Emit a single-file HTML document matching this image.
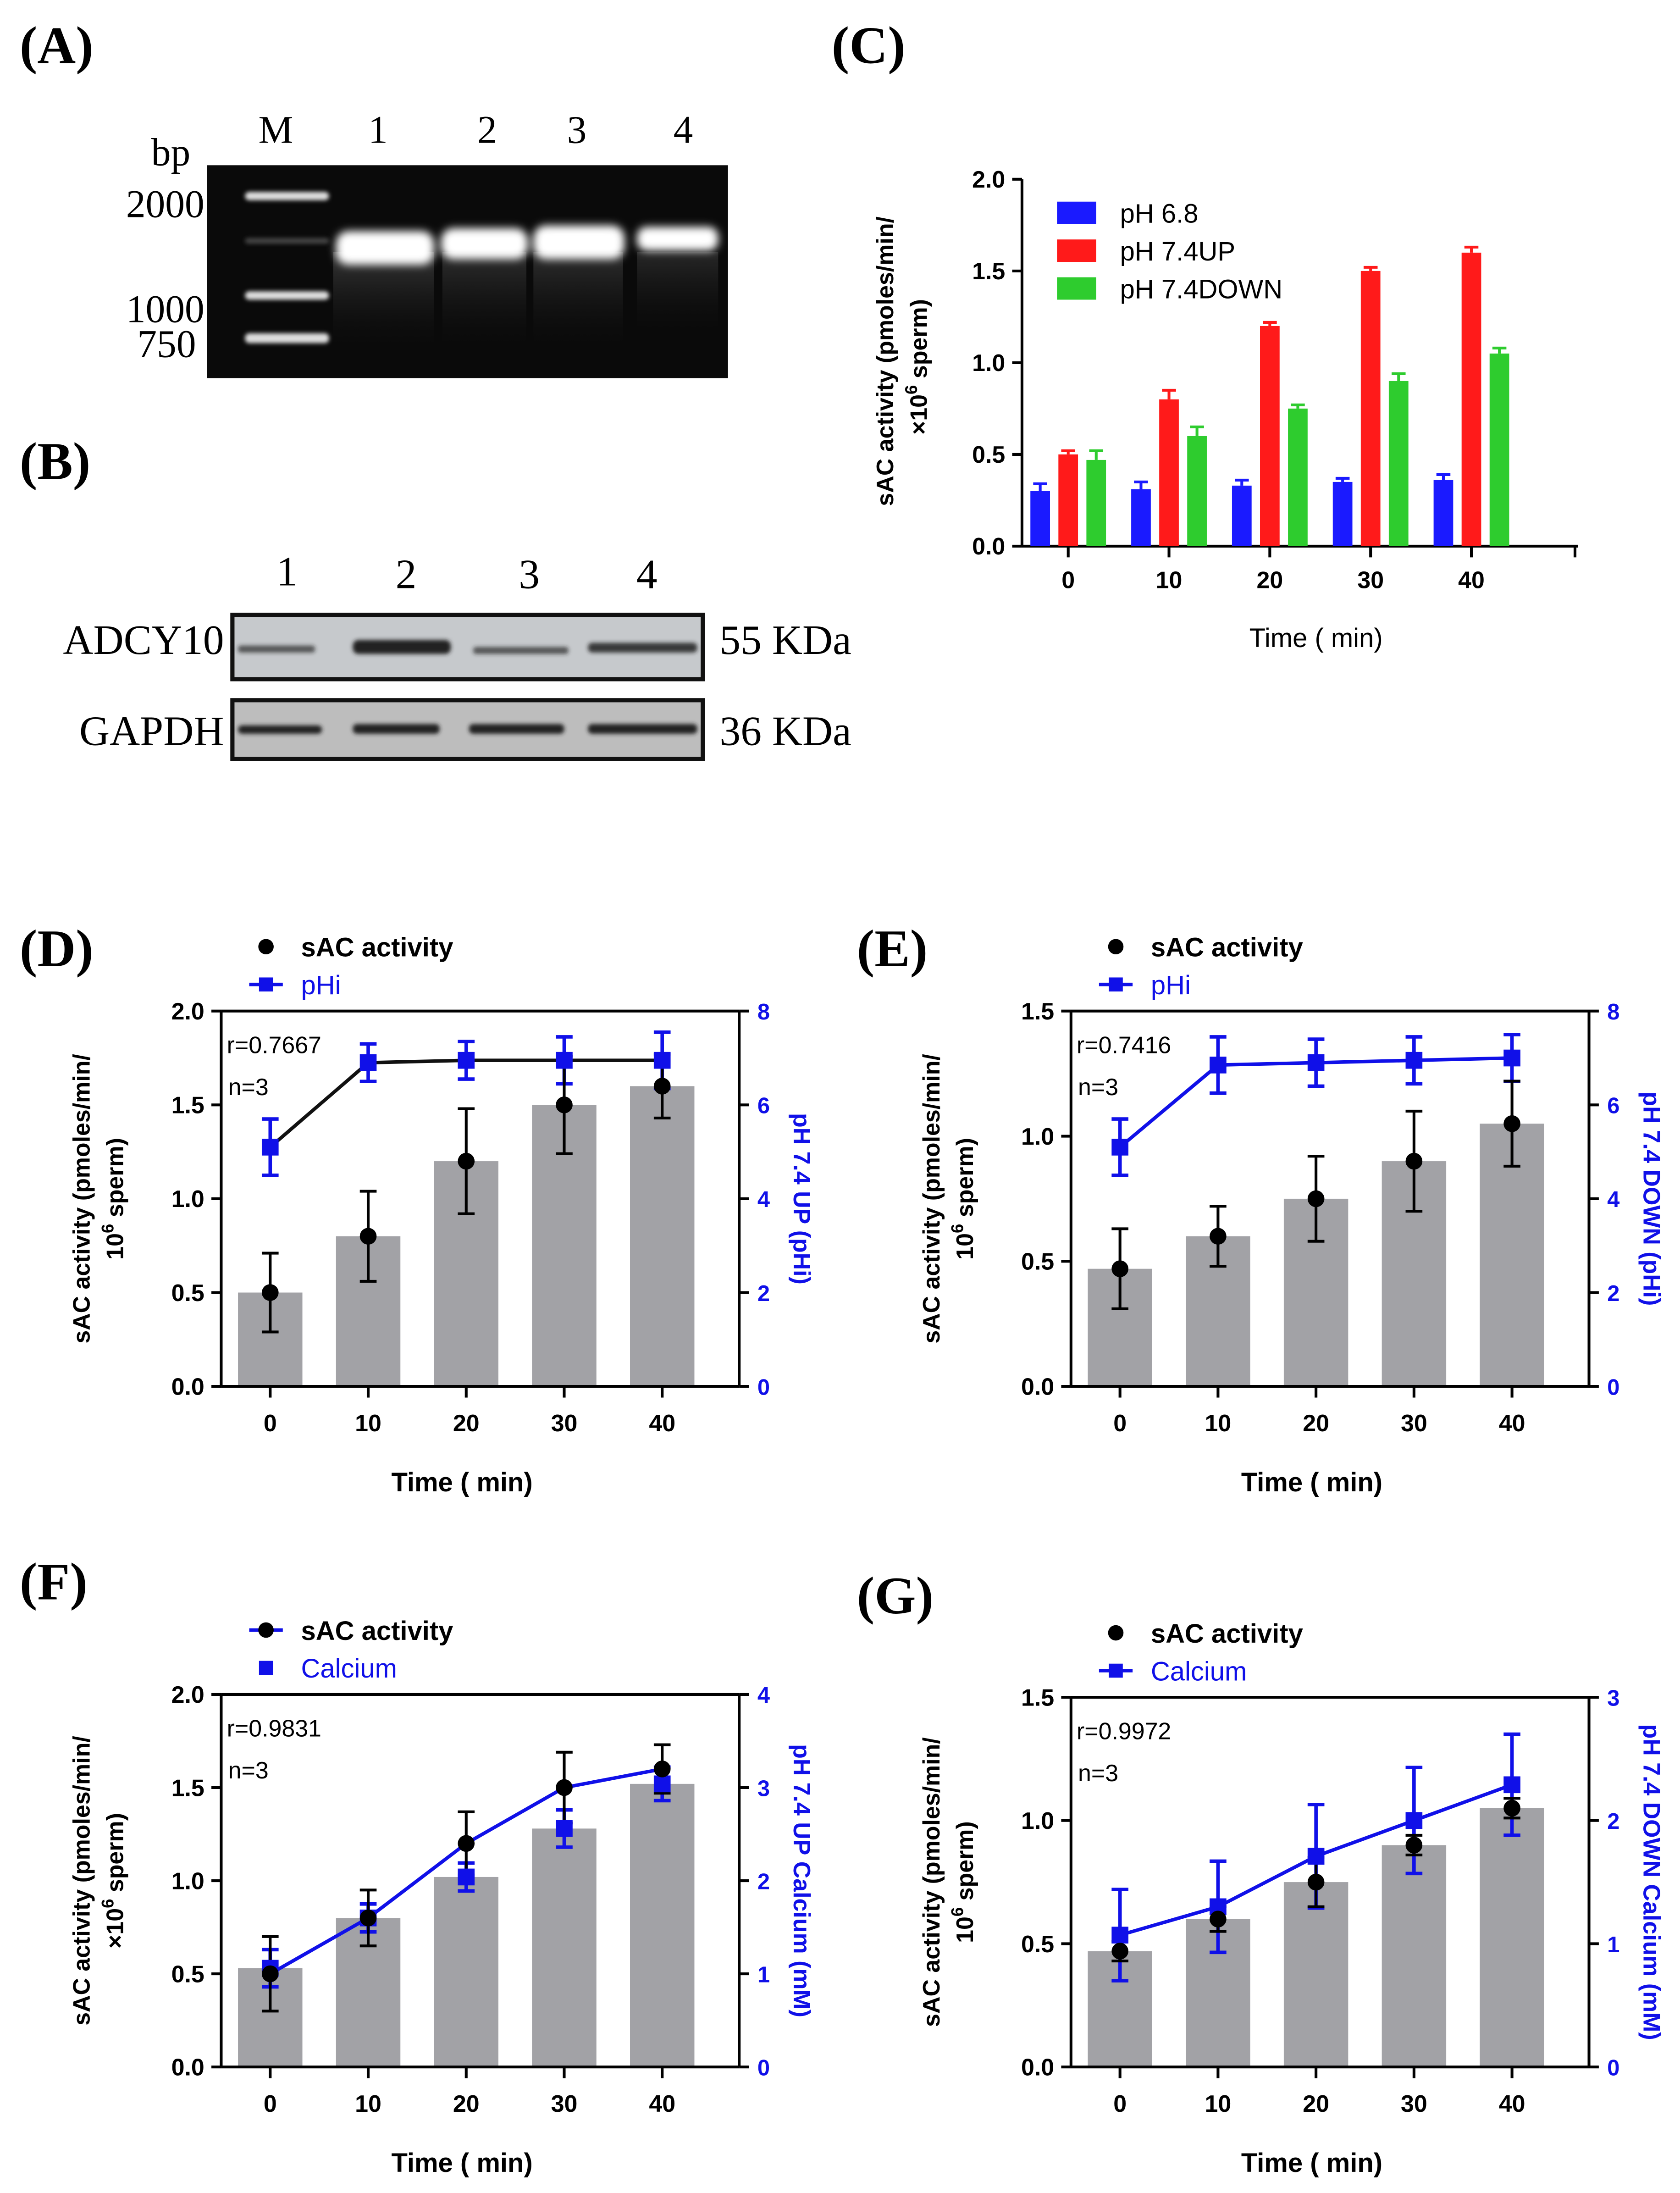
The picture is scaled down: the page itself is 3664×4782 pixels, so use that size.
<!DOCTYPE html>
<html><head><meta charset="utf-8"><style>
html,body{margin:0;padding:0;background:#fff;}
svg{display:block;}
text{font-family:"Liberation Sans",sans-serif;}
.serif{font-family:"Liberation Serif",serif;}
</style></head><body>
<svg id="fig" xmlns="http://www.w3.org/2000/svg" width="3664" height="4782" viewBox="0 0 1200 1566" preserveAspectRatio="none">
<defs>
<filter id="blur2" x="-20%" y="-100%" width="140%" height="300%"><feGaussianBlur stdDeviation="3"/></filter>
<filter id="blur1" x="-20%" y="-100%" width="140%" height="300%"><feGaussianBlur stdDeviation="1.5"/></filter>
<linearGradient id="smear" x1="0" y1="0" x2="0" y2="1"><stop offset="0" stop-color="#555"/><stop offset="1" stop-color="#111" stop-opacity="0"/></linearGradient>
</defs>
<!-- Panel A -->
<g>
<text class="serif" x="14" y="45" font-size="38" font-weight="bold">(A)</text>
<text class="serif" x="108" y="118" font-size="28">bp</text>
<text class="serif" x="197" y="102" font-size="28" text-anchor="middle">M</text>
<text class="serif" x="270" y="102" font-size="28" text-anchor="middle">1</text>
<text class="serif" x="348" y="102" font-size="28" text-anchor="middle">2</text>
<text class="serif" x="412" y="102" font-size="28" text-anchor="middle">3</text>
<text class="serif" x="488" y="102" font-size="28" text-anchor="middle">4</text>
<text class="serif" x="146" y="155" font-size="28" text-anchor="end">2000</text>
<text class="serif" x="146" y="230" font-size="28" text-anchor="end">1000</text>
<text class="serif" x="140" y="255" font-size="28" text-anchor="end">750</text>
<rect x="148" y="118" width="372" height="152" fill="#0a0a0a"/>
<g fill="#ddd" filter="url(#blur1)">
<rect x="175" y="137" width="60" height="6" rx="3"/><rect x="175" y="170" width="60" height="4" rx="2" fill="#444"/><rect x="175" y="208" width="60" height="6" rx="3"/><rect x="175" y="238" width="60" height="7" rx="3"/>
</g>
<g>
<rect x="238" y="180" width="72" height="70" fill="url(#smear)" opacity="0.6"/>
<rect x="316" y="180" width="60" height="70" fill="url(#smear)" opacity="0.5"/>
<rect x="381" y="180" width="64" height="70" fill="url(#smear)" opacity="0.5"/>
<rect x="455" y="180" width="58" height="60" fill="url(#smear)" opacity="0.4"/>
</g>
<g fill="#fff" filter="url(#blur2)">
<rect x="240" y="165" width="70" height="24" rx="9"/><rect x="315" y="163" width="62" height="22" rx="9"/><rect x="381" y="161" width="65" height="24" rx="9"/><rect x="455" y="162" width="58" height="17" rx="7"/>
</g>
</g>
<!-- Panel B -->
<g>
<text class="serif" x="14" y="342" font-size="38" font-weight="bold">(B)</text>
<text class="serif" x="205" y="418" font-size="30" text-anchor="middle">1</text>
<text class="serif" x="290" y="420" font-size="30" text-anchor="middle">2</text>
<text class="serif" x="378" y="420" font-size="30" text-anchor="middle">3</text>
<text class="serif" x="462" y="420" font-size="30" text-anchor="middle">4</text>
<text class="serif" x="160" y="467" font-size="30" text-anchor="end">ADCY10</text>
<text class="serif" x="160" y="532" font-size="30" text-anchor="end">GAPDH</text>
<text class="serif" x="514" y="467" font-size="30">55 KDa</text>
<text class="serif" x="514" y="532" font-size="30">36 KDa</text>
<rect x="166" y="439" width="336" height="46" fill="#c6c9cc" stroke="#111" stroke-width="3"/>
<rect x="166" y="500" width="336" height="42" fill="#bdbdbd" stroke="#111" stroke-width="3"/>
<g fill="#222" filter="url(#blur1)">
<rect x="170" y="461" width="55" height="5" rx="2" opacity="0.7"/><rect x="252" y="457" width="70" height="10" rx="4"/><rect x="338" y="462" width="68" height="5" rx="2" opacity="0.7"/><rect x="420" y="459" width="78" height="7" rx="3" opacity="0.85"/>
<rect x="170" y="518" width="60" height="6" rx="3"/><rect x="252" y="517" width="62" height="7" rx="3"/><rect x="335" y="517" width="68" height="7" rx="3"/><rect x="420" y="517" width="78" height="7" rx="3"/>
</g>
</g>
<text class="serif" x="594" y="45" font-size="38" font-weight="bold">(C)</text>
<text class="serif" x="14" y="690" font-size="38" font-weight="bold">(D)</text>
<text class="serif" x="612" y="690" font-size="38" font-weight="bold">(E)</text>
<text class="serif" x="14" y="1142" font-size="38" font-weight="bold">(F)</text>
<text class="serif" x="612" y="1152" font-size="38" font-weight="bold">(G)</text>
</svg>
<script>
// ---------- Panel C data ----------
const cTimes = ["0","10","20","30","40"];
const cSeriesNames = ["pH 6.8","pH 7.4UP","pH 7.4DOWN"];
const cBlue = [0.30,0.31,0.33,0.35,0.36];
const cBlueErr = [0.04,0.04,0.03,0.02,0.03];
const cRed = [0.50,0.80,1.20,1.50,1.60];
const cRedErr = [0.02,0.05,0.02,0.02,0.03];
const cGreen = [0.47,0.60,0.75,0.90,1.05];
const cGreenErr = [0.05,0.05,0.02,0.04,0.03];
const cTicks = ["0.0","0.5","1.0","1.5","2.0"];

// ---------- Panel D data ----------
const dTimes = ["0","10","20","30","40"];
const dSac = [0.50,0.80,1.20,1.50,1.60];
const dSacErr = [0.21,0.24,0.28,0.26,0.17];
const dPhi = [5.1,6.9,6.95,6.95,6.95];
const dPhiErr = [0.6,0.4,0.4,0.5,0.6];
// ---------- Panel E data ----------
const eTimes = ["0","10","20","30","40"];
const eSac = [0.47,0.60,0.75,0.90,1.05];
const eSacErr = [0.16,0.12,0.17,0.20,0.17];
const ePhi = [5.1,6.85,6.9,6.95,7.0];
const ePhiErr = [0.6,0.6,0.5,0.5,0.5];
// ---------- Panel F data ----------
const fTimes = ["0","10","20","30","40"];
const fSac = [0.50,0.80,1.20,1.50,1.60];
const fSacErr = [0.20,0.15,0.17,0.19,0.13];
const fCalcium = [1.06,1.60,2.04,2.56,3.04];
const fCalciumErr = [0.2,0.15,0.15,0.2,0.18];
// ---------- Panel G data ----------
const gTimes = ["0","10","20","30","40"];
const gSac = [0.47,0.60,0.75,0.90,1.05];
const gSacErr = [0.04,0.05,0.10,0.04,0.04];
const gCalcium = [1.07,1.30,1.71,2.00,2.29];
const gCalciumErr = [0.37,0.37,0.42,0.43,0.41];

const NS = "http://www.w3.org/2000/svg";
const svg = document.getElementById('fig');
const BLUE = "#1010e8";
function mk(tag, attrs, parent){
  const e = document.createElementNS(NS, tag);
  for (const k in attrs) e.setAttribute(k, attrs[k]);
  (parent||svg).appendChild(e);
  return e;
}
function txt(s, attrs, parent){ const t = mk('text', attrs, parent); t.textContent = s; return t; }

// ---------- Panel C ----------
(function(){
  const g = mk('g', {});
  
  
  const x0 = 730, yTop = 128, yBot = 390, vmax = 2.0;
  const y = v => yBot - v / vmax * (yBot - yTop);
  const xc = i => 763 + i * 72;
  mk('line', {x1:x0, y1:yTop, x2:x0, y2:yBot, stroke:'#000','stroke-width':2}, g);
  mk('line', {x1:x0, y1:yBot, x2:1127, y2:yBot, stroke:'#000','stroke-width':2}, g);
  cTicks.forEach(t => {
    const v = parseFloat(t);
    mk('line', {x1:x0-7, y1:y(v), x2:x0, y2:y(v), stroke:'#000','stroke-width':2}, g);
    const l = txt(t, {x:x0-12, y:y(v)+6, 'font-size':17, 'font-weight':'bold', 'text-anchor':'end'}, g);
    
    
  });
  cTimes.forEach((t, i) => {
    mk('line', {x1:xc(i), y1:yBot, x2:xc(i), y2:yBot+8, stroke:'#000','stroke-width':2}, g);
    const l = txt(t, {x:xc(i), y:yBot+30, 'font-size':17, 'font-weight':'bold', 'text-anchor':'middle'}, g);
    
    
  });
  mk('line', {x1:1125, y1:yBot, x2:1125, y2:yBot+8, stroke:'#000','stroke-width':2}, g);
  const series = [[cBlue,cBlueErr,'#1a1aff',-20],[cRed,cRedErr,'#ff1a1a',0],[cGreen,cGreenErr,'#2ecc2e',20]];
  series.forEach((s, si) => {
    s[0].forEach((v, i) => {
      const cx = xc(i) + s[3];
      const b = mk('rect', {x:cx-7, y:y(v), width:14, height:yBot-y(v), fill:s[2]}, g);
      
      
      mk('line', {x1:cx, y1:y(v), x2:cx, y2:y(v+s[1][i]), stroke:s[2],'stroke-width':2}, g);
      mk('line', {x1:cx-5, y1:y(v+s[1][i]), x2:cx+5, y2:y(v+s[1][i]), stroke:s[2],'stroke-width':2}, g);
    });
  });
  const cols = ['#1a1aff','#ff1a1a','#2ecc2e'];
  cSeriesNames.forEach((n, i) => {
    const ly = 153 + i * 27;
    const r = mk('rect', {x:755, y:ly-9, width:28, height:16, fill:cols[i]}, g);
    
    
    const l = txt(n, {x:800, y:ly+6, 'font-size':19}, g);
    
    
  });
  const t1 = txt('sAC activity (pmoles/min/', {x:0, y:0, 'font-size':17, 'font-weight':'bold', 'text-anchor':'middle', transform:'translate(638,258) rotate(-90)'}, g);
  
  
  const t2 = mk('text', {x:0, y:0, 'font-size':17, 'font-weight':'bold', 'text-anchor':'middle', transform:'translate(662,262) rotate(-90)'}, g);
  t2.innerHTML = '×10<tspan dy="-7" font-size="12">6</tspan><tspan dy="7"> sperm)</tspan>';
  
  
  const xt = txt('Time ( min)', {x:940, y:462, 'font-size':19, 'text-anchor':'middle'}, g);
  
  
})();

// ---------- Dual panels ----------
function dual(o){
  const g = mk('g', {});
  
  
  const yL = v => o.yBot - v / o.lmax * (o.yBot - o.yTop);
  const yR = v => o.yBot - v / o.rmax * (o.yBot - o.yTop);
  const xc = i => o.x0 + 35 + i * 70;
  o.times.forEach((t, i) => {
    const v = o.barOnRight ? o.right[i] : o.left[i];
    const yy = o.barOnRight ? yR(v) : yL(v);
    const b = mk('rect', {x:xc(i)-23, y:yy, width:46, height:o.yBot-yy, fill:'#a2a2a6'}, g);
    
    
  });
  mk('line', {x1:o.x0, y1:o.yTop, x2:o.x0, y2:o.yBot, stroke:'#000','stroke-width':2}, g);
  mk('line', {x1:o.x0+370, y1:o.yTop, x2:o.x0+370, y2:o.yBot, stroke:'#000','stroke-width':2}, g);
  mk('line', {x1:o.x0, y1:o.yTop, x2:o.x0+370, y2:o.yTop, stroke:'#000','stroke-width':2}, g);
  mk('line', {x1:o.x0, y1:o.yBot, x2:o.x0+370, y2:o.yBot, stroke:'#000','stroke-width':2}, g);
  o.lTicks.forEach(t => {
    const v = parseFloat(t);
    mk('line', {x1:o.x0-7, y1:yL(v), x2:o.x0, y2:yL(v), stroke:'#000','stroke-width':2}, g);
    const l = txt(t, {x:o.x0-12, y:yL(v)+6, 'font-size':17, 'font-weight':'bold', 'text-anchor':'end'}, g);
    
    
  });
  o.rTicks.forEach(t => {
    const v = parseFloat(t);
    mk('line', {x1:o.x0+370, y1:yR(v), x2:o.x0+377, y2:yR(v), stroke:'#000','stroke-width':2}, g);
    const l = txt(t, {x:o.x0+383, y:yR(v)+6, 'font-size':16, 'font-weight':'bold', fill:BLUE}, g);
    
    
  });
  o.times.forEach((t, i) => {
    mk('line', {x1:xc(i), y1:o.yBot, x2:xc(i), y2:o.yBot+8, stroke:'#000','stroke-width':2}, g);
    const l = txt(t, {x:xc(i), y:o.yBot+32, 'font-size':17, 'font-weight':'bold', 'text-anchor':'middle'}, g);
    
    
  });
  const rPts = o.right.map((v, i) => xc(i) + ',' + yR(v)).join(' ');
  if (o.lineOn === 'right') {
    const pl = mk('polyline', {points:rPts, fill:'none', stroke:o.lineColor, 'stroke-width':2.5}, g);
    
    
  }
  const lPts = o.left.map((v, i) => xc(i) + ',' + yL(v)).join(' ');
  if (o.lineOn === 'left') {
    const pl = mk('polyline', {points:lPts, fill:'none', stroke:BLUE, 'stroke-width':2.5}, g);
    
    
  }
  o.right.forEach((v, i) => {
    const e = o.rightErr[i], cx = xc(i);
    mk('line', {x1:cx, y1:yR(v+e), x2:cx, y2:yR(v-e), stroke:BLUE,'stroke-width':2.5}, g);
    mk('line', {x1:cx-6, y1:yR(v+e), x2:cx+6, y2:yR(v+e), stroke:BLUE,'stroke-width':2.5}, g);
    mk('line', {x1:cx-6, y1:yR(v-e), x2:cx+6, y2:yR(v-e), stroke:BLUE,'stroke-width':2.5}, g);
  });
  o.left.forEach((v, i) => {
    const e = o.leftErr[i], cx = xc(i);
    mk('line', {x1:cx, y1:yL(v+e), x2:cx, y2:yL(v-e), stroke:'#000','stroke-width':2}, g);
    mk('line', {x1:cx-6, y1:yL(v+e), x2:cx+6, y2:yL(v+e), stroke:'#000','stroke-width':2}, g);
    mk('line', {x1:cx-6, y1:yL(v-e), x2:cx+6, y2:yL(v-e), stroke:'#000','stroke-width':2}, g);
  });
  o.right.forEach((v, i) => {
    const s = mk('rect', {x:xc(i)-6, y:yR(v)-6, width:12, height:12, fill:BLUE}, g);
    
    
  });
  o.left.forEach((v, i) => {
    const c = mk('circle', {cx:xc(i), cy:yL(v), r:6, fill:'#000'}, g);
    
    
  });
  const lx = o.x0 + 27;
  const ly1 = o.yTop - 46, ly2 = o.yTop - 19;
  if (o.legendLineFirst) {
    mk('line', {x1:lx-7, y1:ly1, x2:lx+17, y2:ly1, stroke:BLUE, 'stroke-width':2.5}, g);
  }
  mk('circle', {cx:lx+5, cy:ly1, r:5.5, fill:'#000'}, g);
  const l1 = txt('sAC activity', {x:lx+30, y:ly1+7, 'font-size':19, 'font-weight':'bold'}, g);
  
  
  if (!o.legendLineFirst) {
    mk('line', {x1:lx-7, y1:ly2, x2:lx+17, y2:ly2, stroke:BLUE, 'stroke-width':2.5}, g);
  }
  mk('rect', {x:lx, y:ly2-5, width:10, height:10, fill:BLUE}, g);
  const l2 = txt(o.rName, {x:lx+30, y:ly2+7, 'font-size':19, fill:BLUE}, g);
  
  
  const r = txt(o.r, {x:o.x0+4, y:o.yTop+30, 'font-size':17}, g);
  
  
  const n = txt('n=3', {x:o.x0+5, y:o.yTop+60, 'font-size':17}, g);
  
  
  const cy = (o.yTop + o.yBot) / 2;
  const a = txt('sAC activity (pmoles/min/', {x:0, y:0, 'font-size':17, 'font-weight':'bold', 'text-anchor':'middle', transform:'translate(' + (o.x0-94) + ',' + cy + ') rotate(-90)'}, g);
  
  
  const b2 = mk('text', {x:0, y:0, 'font-size':17, 'font-weight':'bold', 'text-anchor':'middle', transform:'translate(' + (o.x0-70) + ',' + cy + ') rotate(-90)'}, g);
  b2.innerHTML = (o.times2x ? '×' : '') + '10<tspan dy="-7" font-size="12">6</tspan><tspan dy="7"> sperm)</tspan>';
  
  
  const rt = txt(o.rTitle, {x:0, y:0, 'font-size':17, 'font-weight':'bold', fill:BLUE, 'text-anchor':'middle', transform:'translate(' + (o.x0+409) + ',' + cy + ') rotate(90)'}, g);
  
  
  const xt = txt('Time ( min)', {x:o.x0+172, y:o.yBot+75, 'font-size':19, 'font-weight':'bold', 'text-anchor':'middle'}, g);
  
  
}

dual({name:'panel-d-chart', id:'d', x0:158, yTop:722, yBot:990, lmax:2.0, rmax:8, times:dTimes,
  left:dSac, leftErr:dSacErr, right:dPhi, rightErr:dPhiErr, barOnRight:false, lineOn:'right', lineColor:'#111',
  lTicks:["0.0","0.5","1.0","1.5","2.0"], rTicks:["0","2","4","6","8"], rName:'pHi', r:'r=0.7667',
  rTitle:'pH 7.4 UP (pHi)', legendLineFirst:false, times2x:false});
dual({name:'panel-e-chart', id:'e', x0:765, yTop:722, yBot:990, lmax:1.5, rmax:8, times:eTimes,
  left:eSac, leftErr:eSacErr, right:ePhi, rightErr:ePhiErr, barOnRight:false, lineOn:'right', lineColor:BLUE,
  lTicks:["0.0","0.5","1.0","1.5"], rTicks:["0","2","4","6","8"], rName:'pHi', r:'r=0.7416',
  rTitle:'pH 7.4 DOWN (pHi)', legendLineFirst:false, times2x:false});
dual({name:'panel-f-chart', id:'f', x0:158, yTop:1210, yBot:1476, lmax:2.0, rmax:4, times:fTimes,
  left:fSac, leftErr:fSacErr, right:fCalcium, rightErr:fCalciumErr, barOnRight:true, lineOn:'left', lineColor:BLUE,
  lTicks:["0.0","0.5","1.0","1.5","2.0"], rTicks:["0","1","2","3","4"], rName:'Calcium', r:'r=0.9831',
  rTitle:'pH 7.4 UP Calcium (mM)', legendLineFirst:true, times2x:true});
dual({name:'panel-g-chart', id:'g', x0:765, yTop:1212, yBot:1476, lmax:1.5, rmax:3, times:gTimes,
  left:gSac, leftErr:gSacErr, right:gCalcium, rightErr:gCalciumErr, barOnRight:false, lineOn:'right', lineColor:BLUE,
  lTicks:["0.0","0.5","1.0","1.5"], rTicks:["0","1","2","3"], rName:'Calcium', r:'r=0.9972',
  rTitle:'pH 7.4 DOWN Calcium (mM)', legendLineFirst:false, times2x:false});
</script>
</body></html>
